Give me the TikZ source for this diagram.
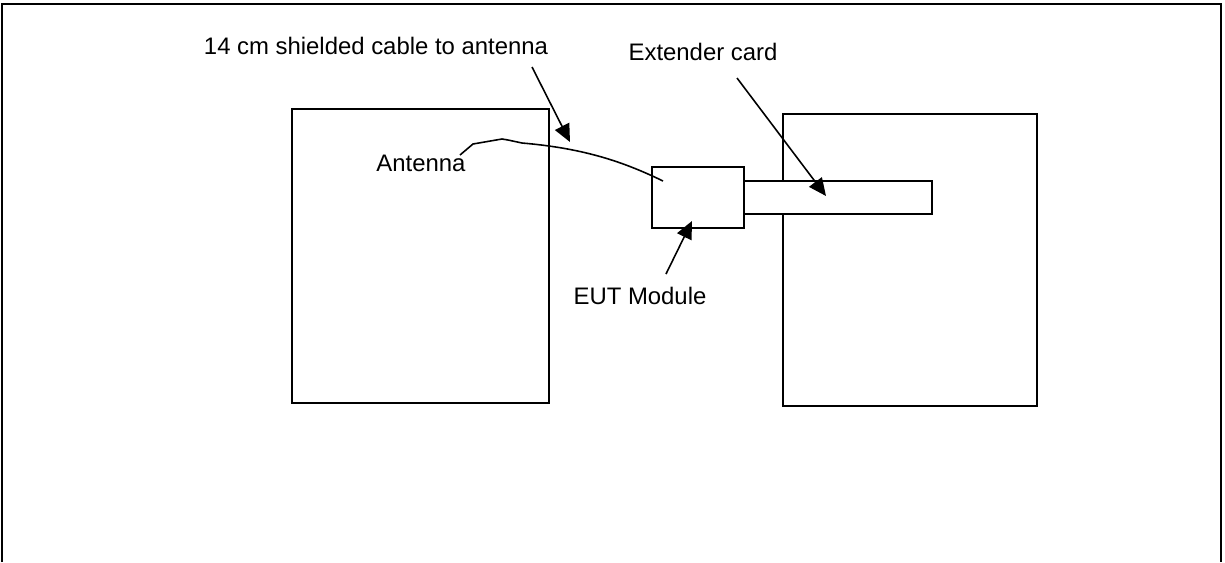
\documentclass[tikz,border=0pt]{standalone}
\usepackage{fontspec}
\setmainfont{Liberation Sans}
\usetikzlibrary{arrows.meta}

\tikzset{
  boxnode/.style={draw, line width=0.9pt, inner sep=0pt},
  lbl/.style={inner sep=0pt},
  pointer/.style={-{Triangle[length=10pt,width=9pt]}, line width=0.9pt}
}

\begin{document}
\begin{tikzpicture}[x=0.02cm, y=-0.02cm, every node/.style={font=\fontsize{13.6}{16}\selectfont}]
      \useasboundingbox (0,0) rectangle (1225,562);
      % outer frame (bottom edge cut off)
      \draw[line width=1.1pt] (2,562) -- (2,4) -- (1221,4) -- (1221,562);
      % two boards
      \node[boxnode, minimum width=5.14cm, minimum height=5.88cm] (left) at (420.5,256) {};
      \node[boxnode, minimum width=5.08cm, minimum height=5.84cm] (right) at (910,260) {};
      % extender card and module
      \node[boxnode, fill=white, minimum width=3.76cm, minimum height=0.66cm] (ext) at (838,197.5) {};
      \node[boxnode, minimum width=1.84cm, minimum height=1.22cm] (eut) at (698,197.5) {};
      % labels
      \node[lbl] (antenna) at (421,163) {Antenna};
      \node[lbl] (cablelbl) at (376,46) {14 cm shielded cable to antenna};
      \node[lbl] (extlbl) at (703,52) {Extender card};
      \node[lbl] (eutlbl) at (640,296) {EUT Module};
      % cable from antenna into module
      \coordinate (cabA) at (460,155);
      \coordinate (cabB) at (663,181);
      \draw[line width=0.9pt] (cabA) -- (473,144) -- (502,139) -- (508,140) -- (522,143)
        .. controls (580,148) and (620,160) .. (cabB);
      % pointers
      \coordinate (p1s) at (532,67);  \coordinate (p1e) at (570,142);
      \coordinate (p2s) at (737,78);  \coordinate (p2e) at (826,196);
      \coordinate (p3s) at (666,274); \coordinate (p3e) at (692,221);
      \draw[pointer] (p1s) -- (p1e);
      \draw[pointer] (p2s) -- (p2e);
      \draw[pointer] (p3s) -- (p3e);
\end{tikzpicture}
\end{document}
